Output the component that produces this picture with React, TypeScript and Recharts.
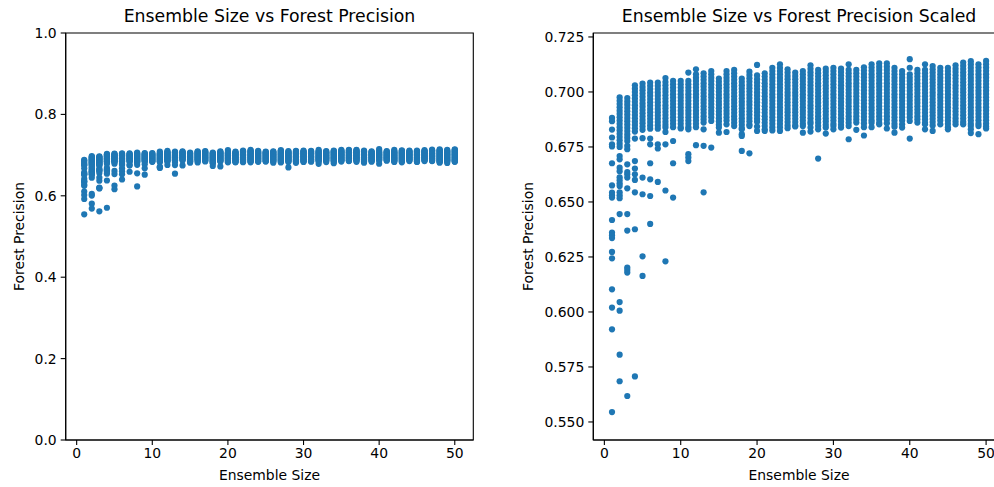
import React from 'react';
import { ScatterChart, Scatter, XAxis, YAxis, ReferenceArea } from 'recharts';

// ensemble sizes on the x axis
const ensembleSizes = [
  1, 2, 3, 4, 5, 6, 7, 8, 9, 10, 11, 12, 13, 14, 15, 16, 17, 18, 19, 20, 21, 22, 23, 24, 25,
  26, 27, 28, 29, 30, 31, 32, 33, 34, 35, 36, 37, 38, 39, 40, 41, 42, 43, 44, 45, 46, 47, 48, 49, 50,
];

// forest precision of every run, one list per ensemble size
const precisionRuns: number[][] = [
  [0.6882, 0.6867, 0.6829, 0.6793, 0.6762, 0.6752, 0.6676, 0.6575, 0.6543, 0.653, 0.652, 0.6418, 0.6361, 0.6349, 0.6336, 0.6273, 0.6244, 0.6103, 0.602, 0.5921, 0.5545],
  [0.6975, 0.696, 0.6945, 0.693, 0.6915, 0.69, 0.6885, 0.687, 0.6855, 0.684, 0.6825, 0.681, 0.6795, 0.678, 0.6765, 0.675, 0.6709, 0.6694, 0.6656, 0.664, 0.6612, 0.6599, 0.6585, 0.6573, 0.6544, 0.653, 0.6517, 0.6445, 0.6045, 0.6006, 0.5806, 0.5685],
  [0.6972, 0.6957, 0.6942, 0.6927, 0.6912, 0.6897, 0.6882, 0.6867, 0.6852, 0.6837, 0.6822, 0.6807, 0.6792, 0.6777, 0.6755, 0.674, 0.6671, 0.6636, 0.6626, 0.6611, 0.6562, 0.6445, 0.637, 0.6202, 0.6191, 0.6179, 0.5618],
  [0.703, 0.7015, 0.7, 0.6985, 0.697, 0.6955, 0.694, 0.6925, 0.691, 0.6895, 0.688, 0.6865, 0.685, 0.6835, 0.682, 0.6788, 0.6686, 0.6652, 0.6626, 0.66, 0.6544, 0.6376, 0.5707],
  [0.7038, 0.7023, 0.7008, 0.6993, 0.6978, 0.6963, 0.6948, 0.6933, 0.6918, 0.6903, 0.6888, 0.6873, 0.6858, 0.6843, 0.6828, 0.679, 0.6611, 0.6535, 0.6253, 0.6164],
  [0.7043, 0.7028, 0.7013, 0.6998, 0.6983, 0.6968, 0.6953, 0.6938, 0.6923, 0.6908, 0.6893, 0.6878, 0.6863, 0.6848, 0.6833, 0.6788, 0.6762, 0.6676, 0.6603, 0.6527, 0.64],
  [0.7043, 0.7028, 0.7013, 0.6998, 0.6983, 0.6968, 0.6953, 0.6938, 0.6923, 0.6908, 0.6893, 0.6878, 0.6863, 0.6848, 0.6833, 0.6762, 0.6743, 0.6591],
  [0.7063, 0.7045, 0.703, 0.7015, 0.7, 0.6985, 0.697, 0.6955, 0.694, 0.6925, 0.691, 0.6895, 0.688, 0.6865, 0.685, 0.6838, 0.6818, 0.6762, 0.6552, 0.623],
  [0.705, 0.7035, 0.702, 0.7005, 0.699, 0.6975, 0.696, 0.6945, 0.693, 0.6915, 0.69, 0.6885, 0.687, 0.6855, 0.684, 0.6777, 0.6676, 0.652],
  [0.705, 0.7035, 0.702, 0.7005, 0.699, 0.6975, 0.696, 0.6945, 0.693, 0.6915, 0.69, 0.6885, 0.687, 0.6855, 0.684, 0.6834],
  [0.7088, 0.705, 0.7035, 0.702, 0.7005, 0.699, 0.6975, 0.696, 0.6945, 0.693, 0.6915, 0.69, 0.6885, 0.687, 0.6855, 0.684, 0.683, 0.6717, 0.6702, 0.6686],
  [0.7103, 0.708, 0.7065, 0.705, 0.7035, 0.702, 0.7005, 0.699, 0.6975, 0.696, 0.6945, 0.693, 0.6915, 0.69, 0.6885, 0.687, 0.6855, 0.684, 0.6758],
  [0.7085, 0.707, 0.7055, 0.704, 0.7025, 0.701, 0.6995, 0.698, 0.6965, 0.695, 0.6935, 0.692, 0.6905, 0.689, 0.6875, 0.6861, 0.683, 0.6755, 0.6544],
  [0.7095, 0.708, 0.7065, 0.705, 0.7035, 0.702, 0.7005, 0.699, 0.6975, 0.696, 0.6945, 0.693, 0.6915, 0.69, 0.6885, 0.6868, 0.6747],
  [0.7061, 0.7046, 0.7031, 0.7016, 0.7001, 0.6986, 0.6971, 0.6956, 0.6941, 0.6926, 0.6911, 0.6896, 0.6881, 0.6866, 0.6851, 0.6838, 0.6815],
  [0.7095, 0.708, 0.7065, 0.705, 0.7035, 0.702, 0.7005, 0.699, 0.6975, 0.696, 0.6945, 0.693, 0.6915, 0.69, 0.6885, 0.687, 0.6853, 0.6818],
  [0.71, 0.7085, 0.707, 0.7055, 0.704, 0.7025, 0.701, 0.6995, 0.698, 0.6965, 0.695, 0.6935, 0.692, 0.6905, 0.689, 0.6875, 0.686, 0.6845],
  [0.7061, 0.7046, 0.7031, 0.7016, 0.7001, 0.6986, 0.6971, 0.6956, 0.6941, 0.6926, 0.6911, 0.6896, 0.6881, 0.6866, 0.6851, 0.6836, 0.683, 0.6808, 0.68, 0.6732],
  [0.7092, 0.7077, 0.7062, 0.7047, 0.7032, 0.7017, 0.7002, 0.6987, 0.6972, 0.6957, 0.6942, 0.6927, 0.6912, 0.6897, 0.6882, 0.6867, 0.6852, 0.6845, 0.6721],
  [0.7123, 0.7075, 0.7058, 0.7043, 0.7028, 0.7013, 0.6998, 0.6983, 0.6968, 0.6953, 0.6938, 0.6923, 0.6908, 0.6893, 0.6878, 0.6865, 0.6843, 0.6823],
  [0.7085, 0.707, 0.7055, 0.704, 0.7025, 0.701, 0.6995, 0.698, 0.6965, 0.695, 0.6935, 0.692, 0.6905, 0.689, 0.6875, 0.686, 0.6845, 0.683, 0.6823],
  [0.711, 0.7095, 0.708, 0.7065, 0.705, 0.7035, 0.702, 0.7005, 0.699, 0.6975, 0.696, 0.6945, 0.693, 0.6915, 0.69, 0.6885, 0.687, 0.6855, 0.684, 0.6825],
  [0.7126, 0.711, 0.7095, 0.708, 0.7065, 0.705, 0.7035, 0.702, 0.7005, 0.699, 0.6975, 0.696, 0.6945, 0.693, 0.6915, 0.69, 0.6885, 0.687, 0.6855, 0.684, 0.6823],
  [0.7103, 0.7088, 0.7073, 0.7058, 0.7043, 0.7028, 0.7013, 0.6998, 0.6983, 0.6968, 0.6953, 0.6938, 0.6923, 0.6908, 0.6893, 0.6878, 0.6863, 0.6848, 0.6835],
  [0.7088, 0.7073, 0.7058, 0.7043, 0.7028, 0.7013, 0.6998, 0.6983, 0.6968, 0.6953, 0.6938, 0.6923, 0.6908, 0.6893, 0.6878, 0.6863, 0.6848, 0.6843],
  [0.7095, 0.708, 0.7065, 0.705, 0.7035, 0.702, 0.7005, 0.699, 0.6975, 0.696, 0.6945, 0.693, 0.6915, 0.69, 0.6885, 0.687, 0.6855, 0.6845, 0.6815],
  [0.7121, 0.7105, 0.709, 0.7075, 0.706, 0.7045, 0.703, 0.7015, 0.7, 0.6985, 0.697, 0.6955, 0.694, 0.6925, 0.691, 0.6895, 0.688, 0.6865, 0.6855, 0.6838, 0.682],
  [0.71, 0.7085, 0.707, 0.7055, 0.704, 0.7025, 0.701, 0.6995, 0.698, 0.6965, 0.695, 0.6935, 0.692, 0.6905, 0.689, 0.6875, 0.686, 0.6845, 0.683, 0.6697],
  [0.7106, 0.7091, 0.7076, 0.7061, 0.7046, 0.7031, 0.7016, 0.7001, 0.6986, 0.6971, 0.6956, 0.6941, 0.6926, 0.6911, 0.6896, 0.6881, 0.6866, 0.6851, 0.6838, 0.6811],
  [0.711, 0.7095, 0.708, 0.7065, 0.705, 0.7035, 0.702, 0.7005, 0.699, 0.6975, 0.696, 0.6945, 0.693, 0.6915, 0.69, 0.6885, 0.687, 0.6855, 0.6845, 0.683],
  [0.7106, 0.7091, 0.7076, 0.7061, 0.7046, 0.7031, 0.7016, 0.7001, 0.6986, 0.6971, 0.6956, 0.6941, 0.6926, 0.6911, 0.6896, 0.6881, 0.6866, 0.6851, 0.6838],
  [0.7126, 0.71, 0.7085, 0.707, 0.7055, 0.704, 0.7025, 0.701, 0.6995, 0.698, 0.6965, 0.695, 0.6935, 0.692, 0.6905, 0.689, 0.6875, 0.686, 0.6845, 0.6785],
  [0.71, 0.7085, 0.707, 0.7055, 0.704, 0.7025, 0.701, 0.6995, 0.698, 0.6965, 0.695, 0.6935, 0.692, 0.6905, 0.689, 0.6875, 0.6861, 0.6828],
  [0.7112, 0.7097, 0.7082, 0.7067, 0.7052, 0.7037, 0.7022, 0.7007, 0.6992, 0.6977, 0.6962, 0.6947, 0.6932, 0.6917, 0.6902, 0.6887, 0.6872, 0.6857, 0.684, 0.6802],
  [0.7126, 0.7111, 0.7096, 0.7081, 0.7066, 0.7051, 0.7036, 0.7021, 0.7006, 0.6991, 0.6976, 0.6961, 0.6946, 0.6931, 0.6916, 0.6901, 0.6886, 0.6871, 0.686, 0.684],
  [0.713, 0.7115, 0.71, 0.7085, 0.707, 0.7055, 0.704, 0.7025, 0.701, 0.6995, 0.698, 0.6965, 0.695, 0.6935, 0.692, 0.6905, 0.689, 0.6875, 0.686, 0.6853],
  [0.713, 0.7115, 0.71, 0.7085, 0.707, 0.7055, 0.704, 0.7025, 0.701, 0.6995, 0.698, 0.6965, 0.695, 0.6935, 0.692, 0.6905, 0.689, 0.6875, 0.6858, 0.6834],
  [0.711, 0.7095, 0.708, 0.7065, 0.705, 0.7035, 0.702, 0.7005, 0.699, 0.6975, 0.696, 0.6945, 0.693, 0.6915, 0.69, 0.6885, 0.687, 0.6855, 0.6842, 0.6815],
  [0.7095, 0.708, 0.7065, 0.705, 0.7035, 0.702, 0.7005, 0.699, 0.6975, 0.696, 0.6945, 0.693, 0.6915, 0.69, 0.6885, 0.687, 0.6853, 0.6838],
  [0.7149, 0.711, 0.708, 0.7065, 0.705, 0.7035, 0.702, 0.7005, 0.699, 0.6975, 0.696, 0.6945, 0.693, 0.6915, 0.69, 0.6885, 0.6868, 0.6788],
  [0.71, 0.7085, 0.707, 0.7055, 0.704, 0.7025, 0.701, 0.6995, 0.698, 0.6965, 0.695, 0.6935, 0.692, 0.6905, 0.689, 0.6875, 0.6861],
  [0.7126, 0.71, 0.7085, 0.707, 0.7055, 0.704, 0.7025, 0.701, 0.6995, 0.698, 0.6965, 0.695, 0.6935, 0.692, 0.6905, 0.689, 0.6875, 0.686, 0.6853, 0.683],
  [0.7118, 0.7103, 0.7088, 0.7073, 0.7058, 0.7043, 0.7028, 0.7013, 0.6998, 0.6983, 0.6968, 0.6953, 0.6938, 0.6923, 0.6908, 0.6893, 0.6878, 0.6863, 0.6848, 0.6823],
  [0.711, 0.7095, 0.708, 0.7065, 0.705, 0.7035, 0.702, 0.7005, 0.699, 0.6975, 0.696, 0.6945, 0.693, 0.6915, 0.69, 0.6885, 0.687, 0.6853],
  [0.711, 0.7095, 0.708, 0.7065, 0.705, 0.7035, 0.702, 0.7005, 0.699, 0.6975, 0.696, 0.6945, 0.693, 0.6915, 0.69, 0.6885, 0.687, 0.6855, 0.684, 0.683],
  [0.7121, 0.7106, 0.7091, 0.7076, 0.7061, 0.7046, 0.7031, 0.7016, 0.7001, 0.6986, 0.6971, 0.6956, 0.6941, 0.6926, 0.6911, 0.6896, 0.6881, 0.6866, 0.6853],
  [0.7134, 0.7119, 0.7104, 0.7089, 0.7074, 0.7059, 0.7044, 0.7029, 0.7014, 0.6999, 0.6984, 0.6969, 0.6954, 0.6939, 0.6924, 0.6909, 0.6894, 0.6879, 0.6864, 0.6853],
  [0.714, 0.7125, 0.711, 0.7095, 0.708, 0.7065, 0.705, 0.7035, 0.702, 0.7005, 0.699, 0.6975, 0.696, 0.6945, 0.693, 0.6915, 0.69, 0.6885, 0.687, 0.6855, 0.6845, 0.683, 0.6813],
  [0.7126, 0.7111, 0.7096, 0.7081, 0.7066, 0.7051, 0.7036, 0.7021, 0.7006, 0.6991, 0.6976, 0.6961, 0.6946, 0.6931, 0.6916, 0.6901, 0.6886, 0.6871, 0.6856, 0.6845, 0.6808],
  [0.7141, 0.7126, 0.7111, 0.7096, 0.7081, 0.7066, 0.7051, 0.7036, 0.7021, 0.7006, 0.6991, 0.6976, 0.6961, 0.6946, 0.6931, 0.6916, 0.6901, 0.6886, 0.6871, 0.6856, 0.6843, 0.6834],
];

const xTicks = [0, 10, 20, 30, 40, 50];
const fullTicks = [0, 0.2, 0.4, 0.6, 0.8, 1.0];
const scaledTicks = [0.55, 0.575, 0.6, 0.625, 0.65, 0.675, 0.7, 0.725];

const points = ensembleSizes.flatMap((size, i) =>
  precisionRuns[i].map((precision) => ({ size, precision }))
);

const BLUE = '#1f77b4';
const FONT = "'DejaVu Sans', sans-serif";
const TICK = { fill: '#000', fontSize: 13.9, fontFamily: FONT };
const X_DOMAIN: [number, number] = [-1.45, 52.45];

const Dot = (props: any) => <circle cx={props.cx} cy={props.cy} r={3.1} fill={BLUE} />;

interface PanelProps {
  title: string;
  left: number;
  width: number;
  axisWidth: number;
  plotWidth: number;
  yDomain: [number, number];
  yTicks: number[];
  digits: number;
  labelOffset: number;
}

const Panel: React.FC<PanelProps> = ({ title, left, width, axisWidth, plotWidth, yDomain, yTicks, digits, labelOffset }) => (
  <div style={{ position: 'absolute', left, top: 0, width, height: 487 }}>
    <div
      style={{
        position: 'absolute', left: axisWidth, width: plotWidth, top: 6,
        textAlign: 'center', fontSize: 17.3, fontFamily: FONT, color: '#000', lineHeight: '21px',
      }}
    >
      {title}
    </div>
    <ScatterChart width={width} height={487} margin={{ top: 33, right: width - axisWidth - plotWidth, bottom: 0, left: 0 }}>
      <XAxis
        dataKey="size" type="number" domain={X_DOMAIN} ticks={xTicks}
        allowDataOverflow height={47} tick={TICK} tickSize={5} tickMargin={3}
        axisLine={{ stroke: '#000', strokeWidth: 1.1 }} tickLine={{ stroke: '#000', strokeWidth: 1.1 }}
        label={{ value: 'Ensemble Size', position: 'insideBottom', offset: 7, fill: '#000', fontSize: 13.9, fontFamily: FONT }}
      />
      <YAxis
        dataKey="precision" type="number" domain={yDomain} ticks={yTicks}
        allowDataOverflow width={axisWidth} tick={TICK} tickSize={5} tickMargin={4}
        tickFormatter={(v: number) => v.toFixed(digits)}
        axisLine={{ stroke: '#000', strokeWidth: 1.1 }} tickLine={{ stroke: '#000', strokeWidth: 1.1 }}
        label={{
          value: 'Forest Precision', angle: -90, position: 'insideLeft', offset: labelOffset,
          fill: '#000', fontSize: 13.9, fontFamily: FONT, style: { textAnchor: 'middle' },
        }}
      />
      <Scatter data={points} fill={BLUE} shape={Dot} isAnimationActive={false} />
      {/* frame: top and right spines */}
      <ReferenceArea
        x1={X_DOMAIN[0]} x2={X_DOMAIN[1]} y1={yDomain[0]} y2={yDomain[1]}
        fill="none" fillOpacity={0} stroke="#000" strokeWidth={1.1} ifOverflow="visible"
      />
    </ScatterChart>
  </div>
);

export default function App() {
  return (
    <div style={{ position: 'absolute', left: 0, top: 0, width: 994, height: 487, overflow: 'hidden', background: '#fff' }}>
      <Panel
        title="Ensemble Size vs Forest Precision" left={0} width={500} axisWidth={65.7} plotWidth={407.6}
        yDomain={[0, 1]} yTicks={fullTicks} digits={1} labelOffset={19}
      />
      <Panel
        title="Ensemble Size vs Forest Precision Scaled" left={500} width={520} axisWidth={93.3} plotWidth={411.5}
        yDomain={[0.5418, 0.7268]} yTicks={scaledTicks} digits={3} labelOffset={28}
      />
    </div>
  );
}
